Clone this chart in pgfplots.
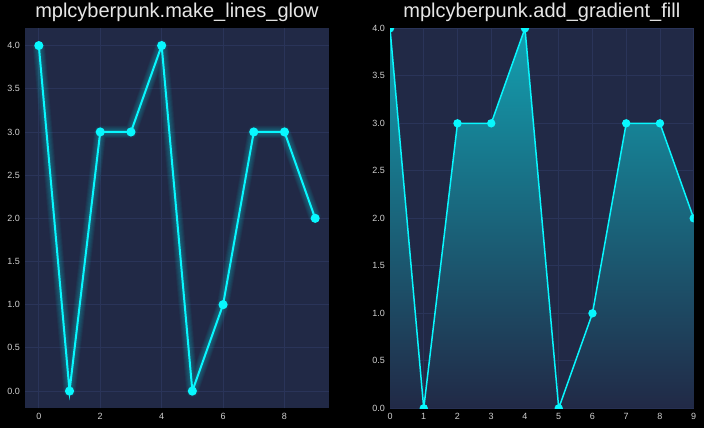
\documentclass[border=0pt]{standalone}
\usepackage{fontspec}
\setmainfont{Liberation Sans}
\usepackage{pgfplots}
\usepackage{pgfplotstable}
\pgfplotsset{compat=1.18}
\definecolor{bg}{HTML}{212946}
\definecolor{gridc}{HTML}{2A3459}
\definecolor{cyanl}{HTML}{08F7FE}
\definecolor{ticktxt}{HTML}{D0D0D0}
\definecolor{titletxt}{HTML}{E6E6E6}
\pgfplotstableread{
x y
0 4
1 0
2 3
3 3
4 4
5 0
6 1
7 3
8 3
9 2
}\data
\pgfplotsset{
  cyber/.style={
    scale only axis,
    anchor=south west,
    height=380pt,
    axis background/.style={fill=bg},
    axis line style={draw=none},
    major tick length=0pt,
    grid=major,
    major grid style={draw=gridc, line width=0.9pt},
    tick label style={font=\fontsize{9}{11}\selectfont, text=ticktxt, inner sep=0pt},
    /pgf/number format/assume math mode=true,
    yticklabel style={anchor=east, xshift=-5pt, /pgf/number format/.cd, fixed, fixed zerofill, precision=1},
    xticklabel style={anchor=north, yshift=-4.5pt},
    scaled ticks=false,
    title style={at={(0.5,1)}, anchor=base, yshift=4.5pt, font=\fontsize{20}{24}\selectfont, text=titletxt},
  }
}
\begin{document}
\begin{tikzpicture}
\fill[black] (0,0) rectangle (704pt,428pt);
\begin{axis}[cyber,
  at={(25pt,20pt)}, width=304pt,
  xmin=-0.45, xmax=9.45, ymin=-0.2, ymax=4.2,
  xtick={0,2,4,6,8}, ytick={0,0.5,1,1.5,2,2.5,3,3.5,4},
  title={mplcyberpunk.make\_lines\_glow}]
\pgfplotsinvokeforeach{1,...,10}{
  \addplot[cyanl, line width={2pt+1.05pt*#1}, opacity=0.03, line join=round, forget plot] table[x=x,y=y]{\data};
}
\addplot[cyanl, line width=2pt, mark=*, mark size=3.5pt, mark options={fill=cyanl, draw=cyanl}] table[x=x,y=y]{\data};
\end{axis}
\begin{axis}[cyber,
  at={(390pt,20pt)}, width=303.7pt,
  xmin=0, xmax=9, ymin=0, ymax=4,
  xtick={0,1,2,3,4,5,6,7,8,9}, ytick={0,0.5,1,1.5,2,2.5,3,3.5,4},
  clip marker paths=true,
  title={mplcyberpunk.add\_gradient\_fill}]
\addplot[draw=none, top color=cyanl!58!bg, bottom color=bg, forget plot] table[x=x,y=y]{\data} \closedcycle;
\addplot[cyanl, line width=1.5pt, mark=*, mark size=3.4pt, mark options={fill=cyanl, draw=cyanl}] table[x=x,y=y]{\data};
\end{axis}
\end{tikzpicture}
\end{document}
